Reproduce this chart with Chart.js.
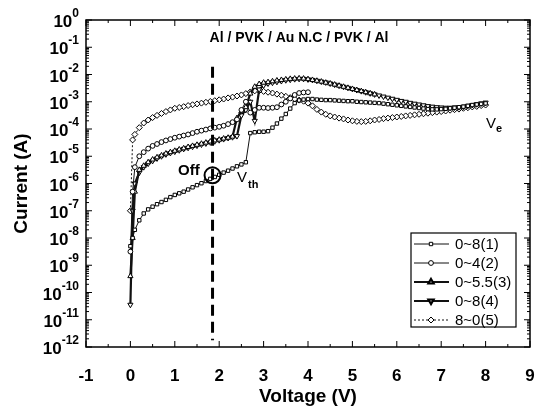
<!DOCTYPE html>
<html>
<head>
<meta charset="utf-8">
<script src="https://cdn.jsdelivr.net/npm/chart.js@4.4.1/dist/chart.umd.min.js"></script>
<style>
html, body { margin: 0; padding: 0; background: #fff; }
#wrap { width: 535px; height: 408px; }
</style>
</head>
<body>
<div id="wrap"><canvas id="ivChart" width="535" height="408"></canvas></div>
<script>
// voltage points of the sweeps (V); the 8~0 sweep is listed on the same points
const volts = [0, 0.05, 0.1,
  0.2, 0.3, 0.4, 0.5, 0.6, 0.7, 0.8, 0.9, 1.0,
  1.1, 1.2, 1.3, 1.4, 1.5, 1.6, 1.7, 1.8, 1.9, 2.0,
  2.1, 2.2, 2.3, 2.4, 2.5, 2.6, 2.7, 2.8, 2.9, 3.0,
  3.1, 3.2, 3.3, 3.4, 3.5, 3.6, 3.7, 3.8, 3.9, 4.0,
  4.1, 4.2, 4.3, 4.4, 4.5, 4.6, 4.7, 4.8, 4.9, 5.0,
  5.1, 5.2, 5.3, 5.4, 5.5, 5.6, 5.7, 5.8, 5.9, 6.0,
  6.1, 6.2, 6.3, 6.4, 6.5, 6.6, 6.7, 6.8, 6.9, 7.0,
  7.1, 7.2, 7.3, 7.4, 7.5, 7.6, 7.7, 7.8, 7.9, 8.0];

// log10 of current (A)
const logI1 = [-8.3, -8.0, -7.7,
  -7.35, -7.1, -6.95, -6.85, -6.76, -6.68, -6.6, -6.5, -6.42,
  -6.36, -6.3, -6.22, -6.14, -6.06, -5.99, -5.91, -5.83, -5.76, -5.68,
  -5.6, -5.53, -5.45, -5.37, -5.3, -5.22, -4.15, -4.12, -4.1, -4.1,
  -4.08, -3.95, -3.8, -3.62, -3.45, -3.25, -3.05, -2.95, -2.92, -2.9,
  -2.9, -2.92, -2.93, -2.94, -2.94, -2.95, -2.96, -2.97, -2.98, -2.98,
  -3.0, -3.01, -3.02, -3.03, -3.04, -3.05, -3.07, -3.09, -3.11, -3.13,
  -3.15, -3.17, -3.19, -3.21, -3.23, -3.25, -3.27, -3.28, -3.28, -3.27,
  -3.26, -3.24, -3.22, -3.2, -3.18, -3.15, -3.12, -3.1, -3.08, -3.06];
const logI2 = [-8.5, -6.3, -5.4,
  -5.0, -4.85, -4.72, -4.62, -4.55, -4.48, -4.42, -4.37, -4.32,
  -4.28, -4.24, -4.2, -4.15, -4.1, -4.06, -4.02, -3.98, -3.95, -3.92,
  -3.88, -3.82, -3.75, -3.65, -3.3, -3.0, -3.4, -3.3, -3.22, -3.22,
  -3.23, -3.22, -3.2, -3.1, -3.0, -2.88, -2.75, -2.68, -2.66, -2.65];
const logI3 = [-9.4, -8.0, -6.3,
  -5.5, -5.35, -5.22, -5.12, -5.04, -4.97, -4.9, -4.85, -4.8,
  -4.75, -4.71, -4.66, -4.62, -4.58, -4.54, -4.5, -4.46, -4.42, -4.39,
  -4.35, -4.32, -4.28, -3.6, -3.35, -3.2, -2.7, -2.45, -2.35, -2.3,
  -2.28, -2.25, -2.22, -2.2, -2.18, -2.16, -2.15, -2.14, -2.15, -2.17,
  -2.2, -2.23, -2.26, -2.3, -2.33, -2.37, -2.41, -2.45, -2.49, -2.53,
  -2.57, -2.61, -2.65, -2.69, -2.73];
const logI4 = [-10.45, -7.0, -6.0,
  -5.6, -5.4, -5.27, -5.17, -5.08, -5.0, -4.93, -4.88, -4.83,
  -4.78, -4.73, -4.69, -4.65, -4.61, -4.57, -4.53, -4.49, -4.45, -4.41,
  -4.37, -4.33, -4.3, -4.26, -3.5, -3.3, -3.0, -3.7, -2.55, -2.4,
  -2.33, -2.3, -2.27, -2.24, -2.21, -2.19, -2.17, -2.16, -2.16, -2.18,
  -2.2, -2.23, -2.26, -2.29, -2.33, -2.37, -2.41, -2.45, -2.49, -2.53,
  -2.57, -2.61, -2.65, -2.69, -2.73, -2.77, -2.81, -2.85, -2.89, -2.93,
  -2.97, -3.0, -3.04, -3.07, -3.1, -3.13, -3.16, -3.18, -3.2, -3.21,
  -3.22, -3.22, -3.21, -3.2, -3.18, -3.15, -3.12, -3.09, -3.06, -3.03];
const logI5 = [-7.0, -4.4, -4.2,
  -3.95, -3.78, -3.67, -3.58, -3.5, -3.43, -3.36, -3.3, -3.24,
  -3.21, -3.18, -3.14, -3.11, -3.08, -3.05, -3.02, -2.99, -2.96, -2.93,
  -2.9, -2.86, -2.83, -2.79, -2.75, -2.7, -2.64, -2.6, -2.6, -2.62,
  -2.65, -2.68, -2.72, -2.76, -2.8, -2.85, -2.9, -2.94, -2.98, -3.05,
  -3.15, -3.28, -3.38, -3.46, -3.52, -3.56, -3.6, -3.63, -3.67, -3.7,
  -3.72, -3.73, -3.72, -3.7, -3.67, -3.65, -3.62, -3.6, -3.58, -3.56,
  -3.54, -3.52, -3.5, -3.48, -3.46, -3.44, -3.42, -3.4, -3.38, -3.36,
  -3.34, -3.31, -3.29, -3.27, -3.24, -3.22, -3.19, -3.17, -3.14, -3.12];

const seriesNames = ['0~8(1)', '0~4(2)', '0~5.5(3)', '0~8(4)', '8~0(5)'];
const xTicks = [-1, 0, 1, 2, 3, 4, 5, 6, 7, 8, 9];
const yDecades = [0, -1, -2, -3, -4, -5, -6, -7, -8, -9, -10, -11, -12];

// threshold marker ("Off" point and dashed guide)
const offVolt = 1.85, offCurrent = 2e-6;
const guideTop = 10 ** -1.72, guideBottom = 10 ** -11.75;

const FONT = '"Liberation Sans", Arial, Helvetica, sans-serif';

function pts(logs) {
  return logs.map((e, i) => ({ x: volts[i], y: Math.pow(10, e) }));
}

const styles = [
  { pointStyle: 'rect', pointRadius: 2.4, borderWidth: 1, borderDash: [] },
  { pointStyle: 'circle', pointRadius: 2.4, borderWidth: 1, borderDash: [] },
  { pointStyle: 'triangle', pointRadius: 3, borderWidth: 2.2, borderDash: [] },
  { pointStyle: 'triangle', pointRadius: 3, borderWidth: 2.2, borderDash: [], pointRotation: 180 },
  { pointStyle: 'rectRot', pointRadius: 3, borderWidth: 1, borderDash: [2, 2] }
];
const series = [pts(logI1), pts(logI2), pts(logI3), pts(logI4), pts(logI5).reverse()];

const datasets = series.map((d, i) => Object.assign({
  label: seriesNames[i],
  data: d,
  showLine: true,
  tension: 0,
  borderColor: '#111',
  pointBorderColor: '#000',
  pointBackgroundColor: '#fff',
  pointBorderWidth: 1
}, styles[i]));

const frame = {
  id: 'frame',
  afterDatasetsDraw(chart) {
    const { ctx, chartArea: a, scales: { x, y } } = chart;
    ctx.save();
    ctx.strokeStyle = '#000';
    ctx.fillStyle = '#000';

    // dashed guide line and Off circle
    const gx = x.getPixelForValue(offVolt);
    ctx.lineWidth = 3;
    ctx.setLineDash([11, 6]);
    ctx.beginPath();
    ctx.moveTo(gx, y.getPixelForValue(guideTop));
    ctx.lineTo(gx, y.getPixelForValue(guideBottom));
    ctx.stroke();
    ctx.setLineDash([]);
    ctx.lineWidth = 2;
    ctx.beginPath();
    ctx.arc(gx, y.getPixelForValue(offCurrent), 8, 0, Math.PI * 2);
    ctx.stroke();

    // frame
    ctx.lineWidth = 1.5;
    ctx.strokeRect(a.left, a.top, a.right - a.left, a.bottom - a.top);

    // inward ticks
    ctx.lineWidth = 1;
    ctx.beginPath();
    yDecades.forEach(d => {
      const py = y.getPixelForValue(10 ** d);
      ctx.moveTo(a.left, py); ctx.lineTo(a.left + 6, py);
      ctx.moveTo(a.right, py); ctx.lineTo(a.right - 6, py);
      if (d > -12) {
        for (let k = 2; k <= 9; k++) {
          const pm = y.getPixelForValue(k * 10 ** (d - 1));
          ctx.moveTo(a.left, pm); ctx.lineTo(a.left + 3, pm);
          ctx.moveTo(a.right, pm); ctx.lineTo(a.right - 3, pm);
        }
      }
    });
    xTicks.forEach(v => {
      const px = x.getPixelForValue(v);
      ctx.moveTo(px, a.bottom); ctx.lineTo(px, a.bottom - 6);
      ctx.moveTo(px, a.top); ctx.lineTo(px, a.top + 6);
      if (v < 9) {
        const pm = x.getPixelForValue(v + 0.5);
        ctx.moveTo(pm, a.bottom); ctx.lineTo(pm, a.bottom - 3);
        ctx.moveTo(pm, a.top); ctx.lineTo(pm, a.top + 3);
      }
    });
    ctx.stroke();

    // x tick labels
    ctx.font = 'bold 17px ' + FONT;
    ctx.textAlign = 'center';
    ctx.textBaseline = 'middle';
    xTicks.forEach(v => ctx.fillText(String(v), x.getPixelForValue(v), a.bottom + 29));

    // y tick labels 10^n
    ctx.textAlign = 'right';
    ctx.textBaseline = 'alphabetic';
    yDecades.forEach(d => {
      const py = y.getPixelForValue(10 ** d);
      const ex = d === 0 ? '0' : '-' + (-d);
      ctx.font = 'bold 12px ' + FONT;
      const w = ctx.measureText(ex).width;
      ctx.fillText(ex, 79, py - 3);
      ctx.font = 'bold 17px ' + FONT;
      ctx.fillText('10', 79 - w, py + 7);
    });

    // annotations
    ctx.textAlign = 'center';
    ctx.font = 'bold 14px ' + FONT;
    ctx.fillText('Al / PVK / Au N.C / PVK / Al', 299, 42);
    ctx.textAlign = 'left';
    ctx.font = 'bold 15px ' + FONT;
    ctx.fillText('Off', 178, 175);
    ctx.font = '15px ' + FONT;
    ctx.fillText('V', 237, 182);
    ctx.fillText('V', 486, 128);
    ctx.font = 'bold 11px ' + FONT;
    ctx.fillText('th', 248, 188);
    ctx.fillText('e', 496, 132);

    // legend
    const lx = 411, ly = 233, lw = 105, lh = 94;
    ctx.fillStyle = '#fff';
    ctx.fillRect(lx, ly, lw, lh);
    ctx.lineWidth = 1.2;
    ctx.strokeRect(lx, ly, lw, lh);
    chart.data.datasets.forEach((ds, i) => {
      const ry = ly + 11 + i * 19;
      ctx.strokeStyle = '#111';
      ctx.lineWidth = ds.borderWidth;
      ctx.setLineDash(ds.borderDash);
      ctx.beginPath();
      ctx.moveTo(lx + 3, ry); ctx.lineTo(lx + 38, ry);
      ctx.stroke();
      ctx.setLineDash([]);
      ctx.fillStyle = '#fff';
      ctx.strokeStyle = '#000';
      Chart.helpers.drawPoint(ctx, {
        pointStyle: ds.pointStyle, radius: ds.pointRadius,
        rotation: ds.pointRotation || 0, borderWidth: 1
      }, lx + 20, ry);
      ctx.fillStyle = '#000';
      ctx.font = '15px ' + FONT;
      ctx.textBaseline = 'middle';
      ctx.fillText(ds.label, lx + 44, ry + 1);
      ctx.textBaseline = 'alphabetic';
    });
    ctx.restore();
  }
};

new Chart(document.getElementById('ivChart'), {
  type: 'scatter',
  data: { datasets },
  options: {
    responsive: false,
    animation: false,
    layout: { padding: { top: 20, right: 5, left: 0, bottom: 0 } },
    plugins: { legend: { display: false }, tooltip: { enabled: false } },
    scales: {
      x: {
        type: 'linear', min: -1, max: 9,
        afterFit: s => { s.height = 61; s.paddingLeft = 0; s.paddingRight = 0; },
        grid: { display: false, drawTicks: false },
        border: { display: false },
        ticks: { display: false },
        title: {
          display: true, text: 'Voltage (V)', color: '#000',
          font: { family: FONT, size: 19, weight: 'bold' },
          padding: { top: 0, bottom: 0 }
        }
      },
      y: {
        type: 'logarithmic', min: 1e-12, max: 1,
        afterFit: s => { s.width = 86; s.paddingTop = 0; s.paddingBottom = 0; },
        grid: { display: false, drawTicks: false },
        border: { display: false },
        ticks: { display: false },
        title: {
          display: true, text: 'Current (A)', color: '#000',
          font: { family: FONT, size: 19, weight: 'bold' },
          padding: { top: 10, bottom: 0 }
        }
      }
    }
  },
  plugins: [frame]
});
</script>
</body>
</html>
